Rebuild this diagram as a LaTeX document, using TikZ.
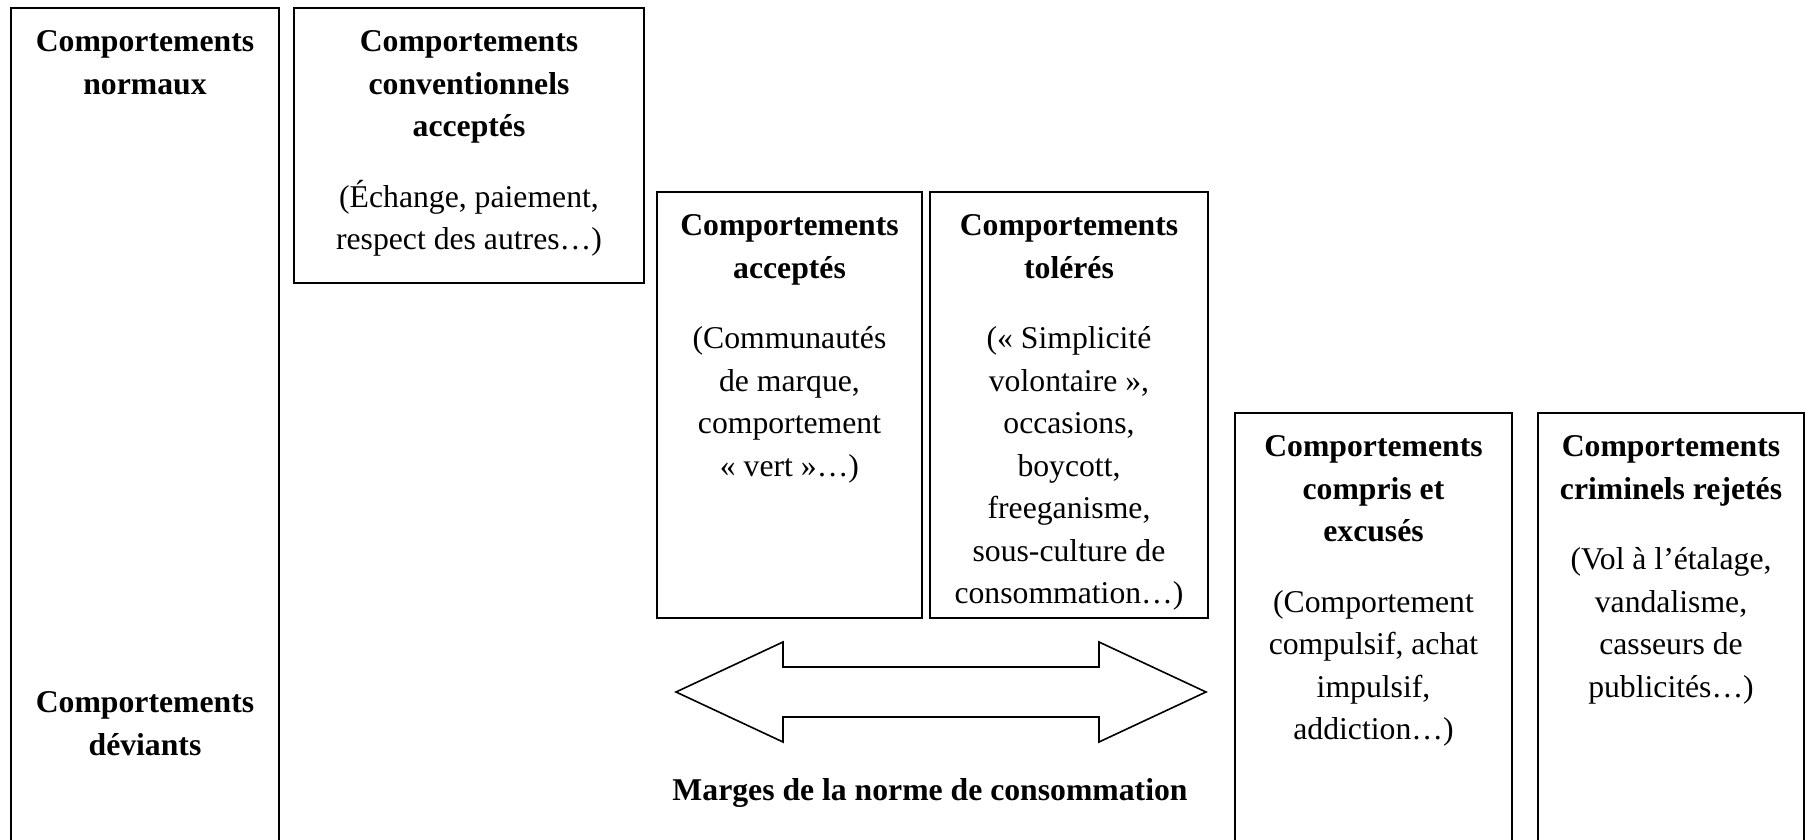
\documentclass[tikz,border=0pt]{standalone}
\usepackage{fontspec}
\setmainfont{Liberation Serif}

\begin{document}
\begin{tikzpicture}[x=0.5pt,y=-0.5pt,line width=0.8pt,
        txt/.style={anchor=north,inner sep=0pt,align=center,font=\fontsize{15.85}{21.25}\selectfont}]
            \useasboundingbox (0,0) rectangle (1806,840);
            \clip (0,0) rectangle (1806,840);

            % colonnes
            \draw (11,8) rectangle (279,900);
            \draw (294,8) rectangle (644,283);
            \draw (657,192) rectangle (922,618);
            \draw (930,192) rectangle (1208,618);
            \draw (1235,413) rectangle (1512,900);
            \draw (1538,413) rectangle (1804,900);

            \node[txt] (normaux) at (145,30) {\textbf{Comportements}\\\textbf{normaux}};
            \node[txt] (deviants) at (145,691) {\textbf{Comportements}\\\textbf{déviants}};
            \node[txt] (conv) at (469,30) {\textbf{Comportements}\\\textbf{conventionnels}\\\textbf{acceptés}\\[14pt]
                (Échange, paiement,\\respect des autres…)};
            \node[txt] (acceptes) at (789.5,214) {\textbf{Comportements}\\\textbf{acceptés}\\[14pt]
                (Communautés\\de marque,\\comportement\\« vert »…)};
            \node[txt] (toleres) at (1069,214) {\textbf{Comportements}\\\textbf{tolérés}\\[14pt]
                (« Simplicité\\volontaire »,\\occasions,\\boycott,\\freeganisme,\\sous-culture de\\consommation…)};
            \node[txt] (compris) at (1373.5,435) {\textbf{Comportements}\\\textbf{compris et}\\\textbf{excusés}\\[14pt]
                (Comportement\\compulsif, achat\\impulsif,\\addiction…)};
            \node[txt] (criminels) at (1671,435) {\textbf{Comportements}\\\textbf{criminels rejetés}\\[14pt]
                (Vol à l’étalage,\\vandalisme,\\casseurs de\\publicités…)};

            % double fleche
            \draw (676,692) -- (783,642) -- (783,667) -- (1099,667) -- (1099,642) -- (1206,692)
                -- (1099,742) -- (1099,717) -- (783,717) -- (783,742) -- cycle;
            \node[txt,anchor=base] (marges) at (930,800) {\textbf{Marges de la norme de consommation}};
        \end{tikzpicture}
\end{document}
